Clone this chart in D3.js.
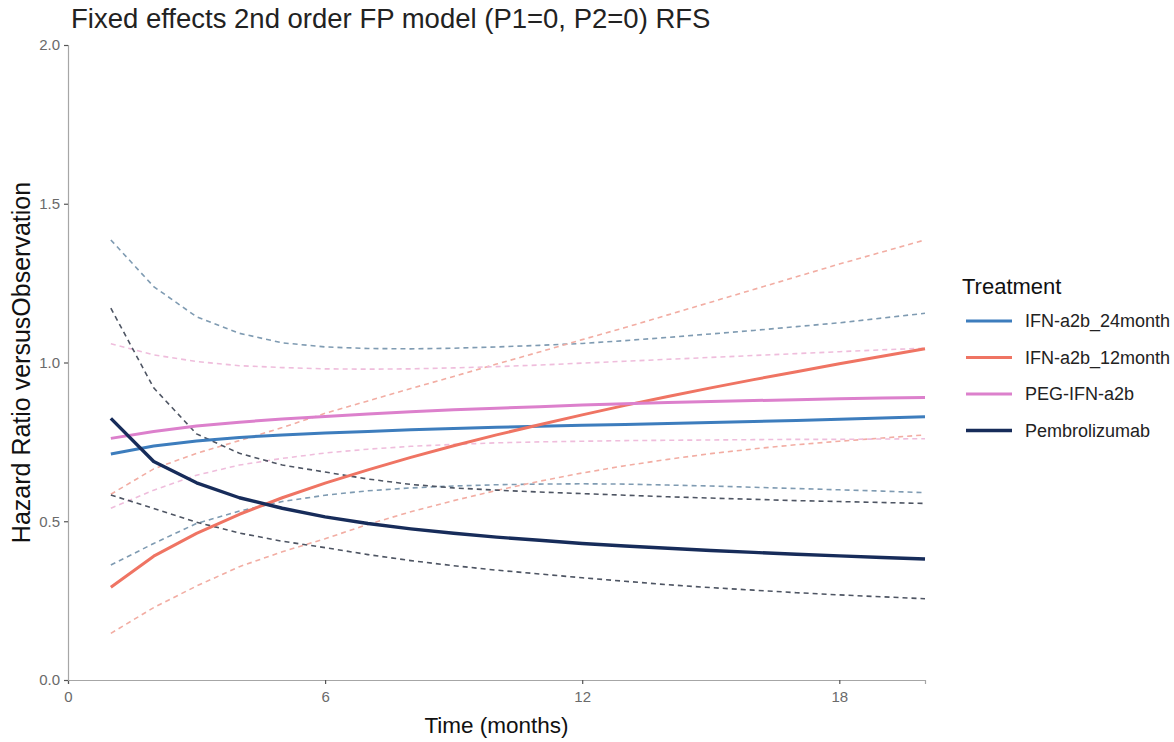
<!DOCTYPE html>
<html>
<head>
<meta charset="utf-8">
<script src="https://cdn.jsdelivr.net/npm/d3@7"></script>
<style>
  html, body { margin: 0; padding: 0; background: #ffffff; }
  svg { display: block; font-family: "Liberation Sans", Arial, Helvetica, sans-serif; }
</style>
</head>
<body>
<svg id="chart" width="1174" height="742"></svg>
<script>
// ---------------- data ----------------
const months = [1, 2, 3, 4, 5, 6, 7, 8, 9, 10, 11, 12, 13, 14, 15, 16, 17, 18, 19, 20];

const treatments = ["IFN-a2b_24month", "IFN-a2b_12month", "PEG-IFN-a2b", "Pembrolizumab"];

const hrIfn24 = [0.712, 0.737, 0.753, 0.764, 0.772, 0.778, 0.783, 0.788, 0.792, 0.796, 0.799, 0.802, 0.805, 0.808, 0.811, 0.814, 0.817, 0.821, 0.825, 0.829];
const loIfn24 = [0.362, 0.430, 0.493, 0.532, 0.562, 0.582, 0.596, 0.605, 0.611, 0.615, 0.617, 0.618, 0.617, 0.614, 0.611, 0.607, 0.603, 0.599, 0.595, 0.590];
const hiIfn24 = [1.386, 1.239, 1.144, 1.092, 1.062, 1.049, 1.044, 1.043, 1.045, 1.049, 1.054, 1.060, 1.069, 1.079, 1.090, 1.101, 1.113, 1.125, 1.140, 1.155];

const hrIfn12 = [0.292, 0.390, 0.462, 0.522, 0.574, 0.620, 0.662, 0.701, 0.738, 0.772, 0.804, 0.835, 0.865, 0.893, 0.920, 0.946, 0.971, 0.996, 1.020, 1.043];
const loIfn12 = [0.147, 0.228, 0.296, 0.357, 0.404, 0.445, 0.490, 0.530, 0.565, 0.597, 0.626, 0.652, 0.675, 0.695, 0.713, 0.728, 0.741, 0.752, 0.762, 0.772];
const hiIfn12 = [0.585, 0.665, 0.714, 0.754, 0.795, 0.840, 0.879, 0.918, 0.956, 0.995, 1.033, 1.072, 1.110, 1.150, 1.190, 1.230, 1.270, 1.310, 1.348, 1.386];

const hrPeg = [0.761, 0.783, 0.800, 0.812, 0.822, 0.830, 0.838, 0.845, 0.851, 0.856, 0.861, 0.866, 0.870, 0.874, 0.877, 0.880, 0.883, 0.886, 0.888, 0.890];
const loPeg = [0.541, 0.598, 0.645, 0.677, 0.698, 0.715, 0.727, 0.736, 0.742, 0.747, 0.750, 0.752, 0.754, 0.755, 0.756, 0.757, 0.758, 0.758, 0.759, 0.760];
const hiPeg = [1.059, 1.024, 1.003, 0.990, 0.984, 0.980, 0.979, 0.980, 0.983, 0.987, 0.992, 0.998, 1.004, 1.010, 1.016, 1.022, 1.028, 1.034, 1.040, 1.045];

const hrPembro = [0.824, 0.688, 0.621, 0.574, 0.541, 0.514, 0.493, 0.476, 0.462, 0.450, 0.440, 0.430, 0.422, 0.415, 0.408, 0.402, 0.396, 0.391, 0.386, 0.381];
const loPembro = [0.583, 0.540, 0.497, 0.463, 0.437, 0.417, 0.395, 0.376, 0.360, 0.346, 0.334, 0.322, 0.311, 0.300, 0.291, 0.283, 0.275, 0.268, 0.262, 0.256];
const hiPembro = [1.171, 0.920, 0.775, 0.714, 0.677, 0.655, 0.633, 0.616, 0.605, 0.598, 0.592, 0.587, 0.582, 0.577, 0.573, 0.569, 0.565, 0.562, 0.559, 0.556];

const xTicks = [0, 6, 12, 18];
const yTicks = [0.0, 0.5, 1.0, 1.5, 2.0];

const titleText = "Fixed effects 2nd order FP model (P1=0, P2=0) RFS";
const xTitle = "Time (months)";
const yTitle = "Hazard Ratio versusObservation";
const legendTitle = "Treatment";

// ---------------- styling ----------------
const lineColors = ["#3d7dbd", "#ef7463", "#dc80cc", "#172c5a"];
const ciColors   = ["#7f9bb2", "#f2ada3", "#efbddc", "#4e5563"];

const series = [
  { hr: hrIfn24, lo: loIfn24, hi: hiIfn24 },
  { hr: hrIfn12, lo: loIfn12, hi: hiIfn12 },
  { hr: hrPeg,   lo: loPeg,   hi: hiPeg },
  { hr: hrPembro, lo: loPembro, hi: hiPembro }
];

const svg = d3.select("#chart");
const pLeft = 68, pRight = 925, pTop = 45, pBottom = 680;

const x = d3.scaleLinear().domain([0, 20]).range([pLeft, pRight]);
const y = d3.scaleLinear().domain([0, 2]).range([pBottom, pTop]);

// title
svg.append("text")
  .attr("x", 71).attr("y", 28)
  .attr("font-size", 27.5).attr("fill", "#222")
  .text(titleText);

// axes
const axisColor = "#a6a6a6";
const gx = svg.append("g").attr("transform", `translate(0,${pBottom})`)
  .call(d3.axisBottom(x).tickValues(xTicks).tickFormat(d3.format("d")).tickSize(4).tickPadding(4));
const gy = svg.append("g").attr("transform", `translate(${pLeft},0)`)
  .call(d3.axisLeft(y).tickValues(yTicks).tickFormat(d3.format(".1f")).tickSize(4).tickPadding(4));
[gx, gy].forEach(g => {
  g.select(".domain").attr("stroke", axisColor).attr("stroke-width", 1.2);
  g.selectAll(".tick line").attr("stroke", "#555").attr("stroke-width", 1.2);
  g.selectAll(".tick text").attr("fill", "#6a6a6a").attr("font-size", 15)
    .attr("font-family", "\"Liberation Sans\", Arial, sans-serif");
});
gx.selectAll(".tick text").attr("dy", "0.95em");

// axis titles
svg.append("text")
  .attr("x", (pLeft + pRight) / 2).attr("y", 733)
  .attr("text-anchor", "middle").attr("font-size", 22.5).attr("fill", "#111")
  .text(xTitle);
svg.append("text")
  .attr("transform", `translate(30,${(pTop + pBottom) / 2}) rotate(-90)`)
  .attr("text-anchor", "middle").attr("font-size", 25).attr("fill", "#111")
  .text(yTitle);

// lines
const lineGen = d3.line().x((d, i) => x(months[i])).y(d => y(d));
const plot = svg.append("g");

series.forEach((s, k) => {
  ["lo", "hi"].forEach(key => {
    plot.append("path")
      .datum(s[key])
      .attr("d", lineGen)
      .attr("fill", "none")
      .attr("stroke", ciColors[k])
      .attr("stroke-width", 1.6)
      .attr("stroke-dasharray", "5,4");
  });
});
series.forEach((s, k) => {
  plot.append("path")
    .datum(s.hr)
    .attr("d", lineGen)
    .attr("fill", "none")
    .attr("stroke", lineColors[k])
    .attr("stroke-width", k === 3 ? 3.4 : 3)
    .attr("stroke-linejoin", "round");
});

// legend
const lg = svg.append("g");
lg.append("text").attr("x", 962).attr("y", 294)
  .attr("font-size", 22).attr("fill", "#111").text(legendTitle);
treatments.forEach((name, i) => {
  const yy = 321 + i * 36.5;
  lg.append("line")
    .attr("x1", 966).attr("x2", 1012).attr("y1", yy).attr("y2", yy)
    .attr("stroke", lineColors[i]).attr("stroke-width", i === 3 ? 3.4 : 3);
  lg.append("text")
    .attr("x", 1025).attr("y", yy).attr("dy", "0.35em")
    .attr("font-size", 18).attr("fill", "#222").text(name);
});
</script>
</body>
</html>
